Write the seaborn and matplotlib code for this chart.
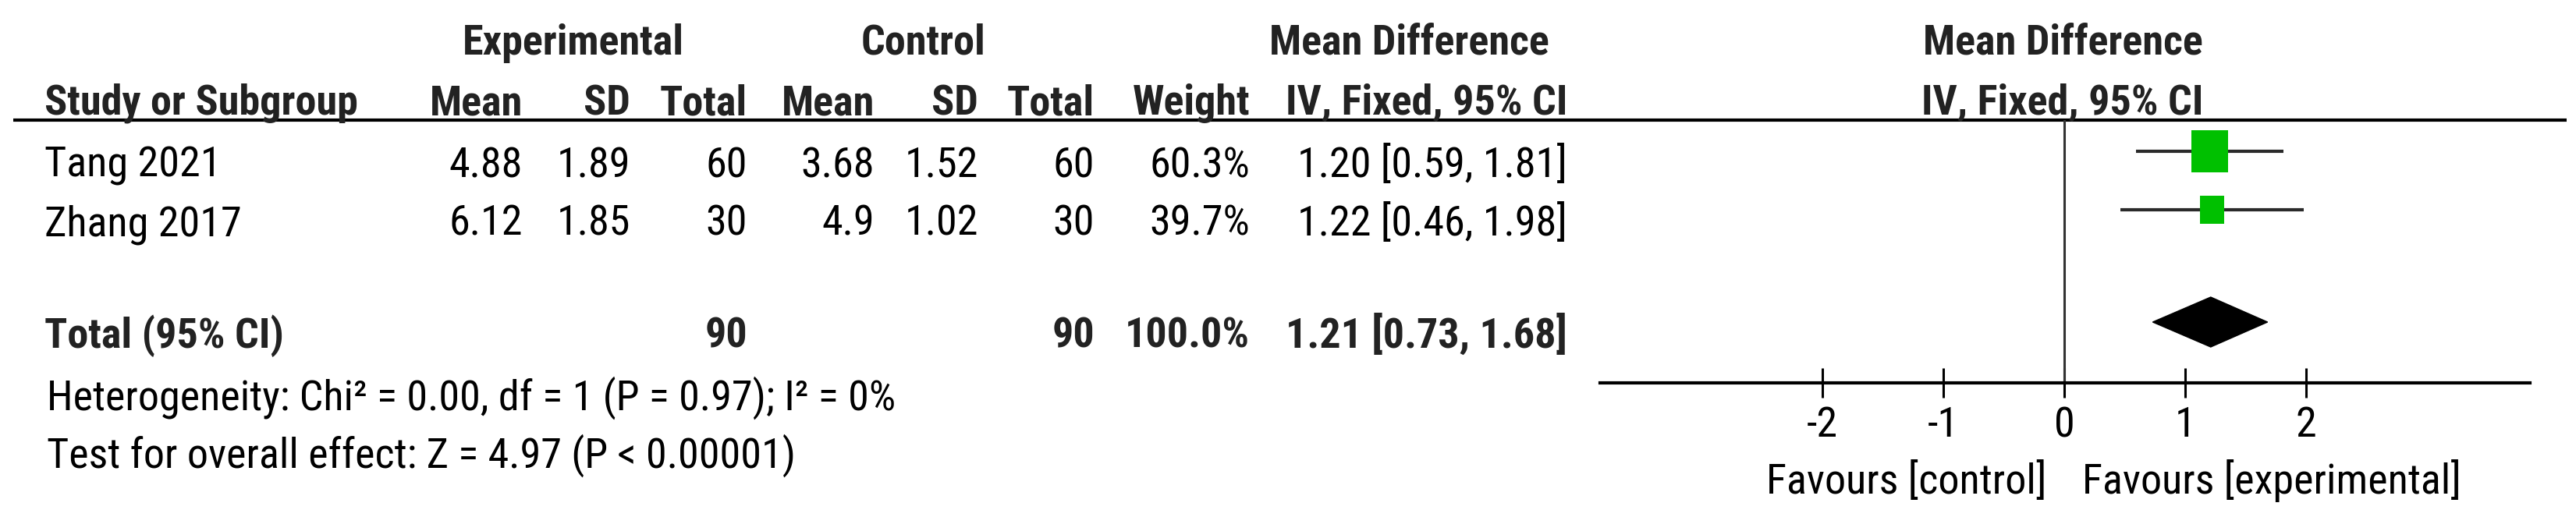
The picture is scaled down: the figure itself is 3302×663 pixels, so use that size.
import matplotlib
matplotlib.use("Agg")
import matplotlib.pyplot as plt
import seaborn as sns
import pandas as pd
from matplotlib import font_manager
from matplotlib.path import Path

# study data
studies = ["Tang 2021", "Zhang 2017"]
exp_mean = [4.88, 6.12]
exp_sd = [1.89, 1.85]
exp_total = [60, 30]
ctrl_mean = [3.68, 4.9]
ctrl_sd = [1.52, 1.02]
ctrl_total = [60, 30]
weight = [60.3, 39.7]
md = [1.20, 1.22]
ci_low = [0.59, 0.46]
ci_high = [1.81, 1.98]

# pooled result
total_md = 1.21
total_low = 0.73
total_high = 1.68
heterogeneity = "Heterogeneity: Chi² = 0.00, df = 1 (P = 0.97); I² = 0%"
overall = "Test for overall effect: Z = 4.97 (P < 0.00001)"
xticks = [-2, -1, 0, 1, 2]

sns.set_theme(style="white")
names = {f.name for f in font_manager.fontManager.ttflist}
font = next((n for n in ["Liberation Sans Narrow", "Roboto Condensed", "DejaVu Sans Condensed"]
             if n in names), "Liberation Sans")
print("font:", font)
plt.rcParams["font.family"] = [font, "DejaVu Sans"]
plt.rcParams["axes.unicode_minus"] = False

W, H = 3302, 663
FS = 39
fig = plt.figure(figsize=(W / 100, H / 100), dpi=100)

# table area, pixel coordinates
tab = fig.add_axes([0, 0, 1, 1])
tab.set_xlim(0, W)
tab.set_ylim(H, 0)
tab.axis("off")

hdr = dict(fontsize=FS, fontweight="bold", color="#222222", va="baseline")
txt = dict(fontsize=FS, color="black", va="baseline")

tab.text(735, 70, "Experimental", ha="center", **hdr)
tab.text(1183, 70, "Control", ha="center", **hdr)
tab.text(1806, 70, "Mean Difference", ha="center", **hdr)
tab.text(2644, 70, "Mean Difference", ha="center", **hdr)

cols = [670, 808, 958, 1121, 1254, 1403, 1602, 2009]
heads = ["Mean", "SD", "Total", "Mean", "SD", "Total", "Weight", "IV, Fixed, 95% CI"]
tab.text(57, 147, "Study or Subgroup", ha="left", **hdr)
for x, h in zip(cols, heads):
    tab.text(x, 147, h, ha="right", **hdr)
tab.text(2644, 147, "IV, Fixed, 95% CI", ha="center", **hdr)
tab.plot([17, 3290], [154, 154], color="black", lw=3, solid_capstyle="butt")

row_base = [227, 302]
for i, name in enumerate(studies):
    vals = [f"{exp_mean[i]:g}", f"{exp_sd[i]:g}", str(exp_total[i]),
            f"{ctrl_mean[i]:g}", f"{ctrl_sd[i]:g}", str(ctrl_total[i]),
            f"{weight[i]:.1f}%", f"{md[i]:.2f} [{ci_low[i]:.2f}, {ci_high[i]:.2f}]"]
    tab.text(57, row_base[i], name, ha="left", **txt)
    for x, v in zip(cols, vals):
        tab.text(x, row_base[i], v, ha="right", **txt)

tab.text(57, 446, "Total (95% CI)", ha="left", **hdr)
tab.text(cols[2], 446, str(sum(exp_total)), ha="right", **hdr)
tab.text(cols[5], 446, str(sum(ctrl_total)), ha="right", **hdr)
tab.text(cols[6], 446, f"{sum(weight):.1f}%", ha="right", **hdr)
tab.text(cols[7], 446, f"{total_md:.2f} [{total_low:.2f}, {total_high:.2f}]", ha="right", **hdr)
tab.text(60, 526, heterogeneity, ha="left", **txt)
tab.text(60, 600, overall, ha="left", **txt)

tab.text(2623, 633, "Favours [control]", ha="right", **txt)
tab.text(2669, 633, "Favours [experimental]", ha="left", **txt)

# forest plot, y in pixels from top
ax = fig.add_axes([2051 / W, 1 - 491 / H, (3243 - 2051) / W, (491 - 154) / H])
ax.set_facecolor("none")
ax.set_xlim(-3.84, 3.85)
ax.set_ylim(491, 154)
for s in ["left", "right", "top"]:
    ax.spines[s].set_visible(False)
ax.spines["bottom"].set_linewidth(3)
ax.spines["bottom"].set_color("black")
ax.set_yticks([])
ax.set_xticks(xticks)
ax.set_xticklabels([str(t) for t in xticks])
ax.tick_params(axis="x", direction="inout", length=28, width=2.2, pad=7,
               labelsize=FS, colors="black", bottom=True)
ax.axvline(0, color="#333333", lw=2.2, zorder=1)

df = pd.DataFrame({"study": studies, "md": md, "lo": ci_low, "hi": ci_high,
                   "weight": weight, "y": [194, 269]})
ax.hlines(df["y"], df["lo"], df["hi"], color="#2a2a2a", lw=3, zorder=2)

box = Path([(-0.43, -0.5), (0.43, -0.5), (0.43, 0.5), (-0.43, 0.5), (-0.43, -0.5)],
           [Path.MOVETO, Path.LINETO, Path.LINETO, Path.LINETO, Path.CLOSEPOLY])
sns.scatterplot(data=df, x="md", y="y", size="weight", sizes=(672, 1568),
                marker=box, color="#00c000", edgecolor="none", linewidth=0,
                legend=False, ax=ax, zorder=3)
ax.set_xlabel("")
ax.set_ylabel("")

ty = 413
ax.fill([total_low, total_md, total_high, total_md], [ty, ty - 32, ty, ty + 32],
        color="black", zorder=3)

fig.savefig("out.png", dpi=100)
